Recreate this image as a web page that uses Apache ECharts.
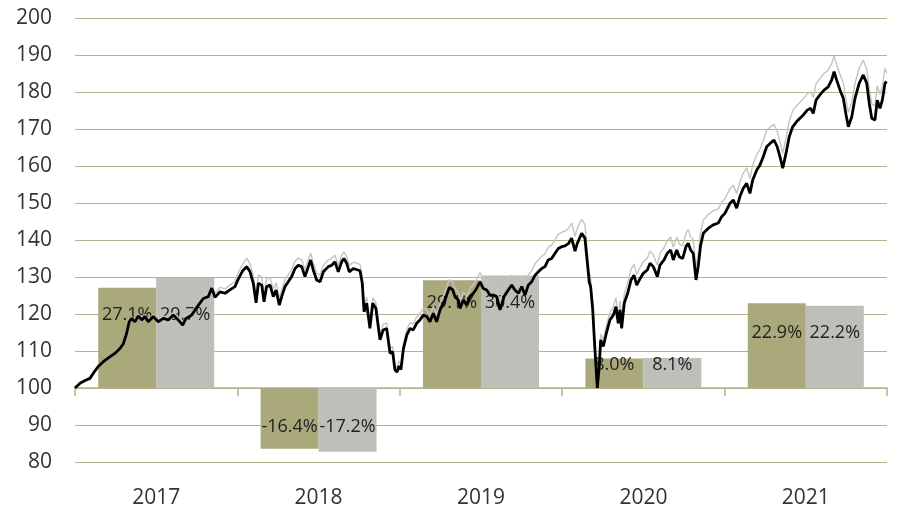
<!DOCTYPE html>
<html>
<head>
<meta charset="utf-8">
<script src="https://cdn.jsdelivr.net/npm/echarts@6/dist/echarts.min.js"></script>
<style>html,body{margin:0;padding:0;background:#fff}#c{width:898px;height:511px}</style>
</head>
<body>
<div id="c"></div>
<script>
// ---------------- data ----------------
const years = ['2017', '2018', '2019', '2020', '2021'];
const returnsA = [27.1, -16.4, 29.1, 8.0, 22.9];   // olive bars (%)
const returnsB = [29.7, -17.2, 30.4, 8.1, 22.2];   // grey bars (%)
const yMin = 80, yMax = 200, yStep = 10;

// time in decimal years
const lineT = [
 2017.000,2017.031,2017.062,2017.092,2017.113,2017.143,2017.174,2017.216,2017.246,2017.277,2017.297,2017.318,2017.334,2017.349,2017.369,2017.390,2017.411,2017.431,2017.451,2017.482,2017.513,2017.544,2017.574,2017.605,2017.636,2017.663,2017.683,2017.719,2017.739,2017.770,2017.790,2017.821,2017.842,2017.862,2017.893,2017.924,2017.954,2017.985,
 2018.006,2018.033,2018.057,2018.078,2018.098,2018.115,2018.129,2018.150,2018.164,2018.180,2018.201,2018.221,2018.238,2018.258,2018.273,2018.293,2018.313,2018.334,2018.355,2018.375,2018.396,2018.416,2018.437,2018.451,2018.467,2018.488,2018.509,2018.529,2018.560,2018.581,2018.601,2018.621,2018.642,2018.656,2018.673,2018.689,2018.714,2018.755,2018.769,2018.780,2018.796,2018.816,2018.833,2018.853,2018.878,2018.898,2018.919,2018.940,2018.956,2018.970,2018.983,2018.995,
 2019.007,2019.022,2019.043,2019.063,2019.083,2019.104,2019.124,2019.145,2019.166,2019.186,2019.206,2019.227,2019.248,2019.278,2019.305,2019.326,2019.340,2019.360,2019.371,2019.391,2019.412,2019.432,2019.453,2019.473,2019.494,2019.514,2019.535,2019.555,2019.576,2019.597,2019.617,2019.642,2019.668,2019.689,2019.709,2019.730,2019.751,2019.771,2019.791,2019.812,2019.833,2019.853,2019.874,2019.894,2019.914,2019.935,2019.956,2019.976,2019.997,
 2020.017,2020.038,2020.058,2020.079,2020.093,2020.110,2020.120,2020.130,2020.140,2020.151,2020.159,2020.167,2020.175,2020.188,2020.198,2020.208,2020.216,2020.228,2020.237,2020.253,2020.274,2020.294,2020.315,2020.331,2020.345,2020.356,2020.366,2020.382,2020.403,2020.424,2020.442,2020.459,2020.475,2020.499,2020.524,2020.541,2020.561,2020.586,2020.602,2020.627,2020.647,2020.668,2020.684,2020.705,2020.721,2020.742,2020.762,2020.776,2020.791,2020.807,2020.824,2020.838,2020.852,2020.869,2020.900,2020.930,2020.961,2020.982,
 2021.002,2021.033,2021.054,2021.074,2021.095,2021.115,2021.136,2021.156,2021.173,2021.198,2021.218,2021.238,2021.259,2021.280,2021.304,2021.324,2021.341,2021.358,2021.378,2021.398,2021.419,2021.444,2021.464,2021.485,2021.509,2021.530,2021.546,2021.563,2021.587,2021.612,2021.638,2021.659,2021.674,2021.690,2021.711,2021.731,2021.748,2021.762,2021.783,2021.803,2021.829,2021.854,2021.875,2021.891,2021.906,2021.926,2021.940,2021.957,2021.971,2021.988,2021.998
];
const lineBlack = [
 100.0,101.3,102.0,102.6,104.0,105.8,107.1,108.5,109.4,110.7,111.9,114.8,117.9,118.8,117.9,119.5,118.4,119.3,117.9,119.3,117.9,118.8,118.4,119.7,118.4,117.0,118.8,119.7,121.1,123.0,124.2,124.7,127.0,124.5,126.0,125.6,126.5,127.4,
 129.5,131.7,132.8,131.4,128.3,123.0,128.3,127.8,123.3,127.4,127.8,124.7,126.5,122.4,124.7,127.4,128.7,130.1,132.3,133.2,132.8,130.1,132.8,134.6,131.9,129.2,128.7,131.4,132.8,133.2,134.1,131.4,134.1,135.0,133.7,131.4,132.3,131.7,128.3,120.6,122.9,116.1,122.9,121.5,113.0,115.7,116.1,109.4,109.8,104.9,104.3,106.0,
 105.0,110.5,114.3,116.1,115.7,117.5,118.4,119.7,119.3,117.9,120.2,117.9,121.1,123.8,127.2,126.5,124.7,123.8,121.5,123.8,122.4,124.7,125.6,126.9,128.7,126.9,126.5,125.1,125.1,124.7,121.1,124.7,126.5,127.8,126.5,125.6,127.4,125.1,127.8,128.7,130.5,131.4,132.3,132.8,134.6,135.0,136.4,137.7,138.2,
 138.4,139.0,140.5,137.0,139.1,140.8,141.8,141.8,140.5,135.5,132.0,128.5,127.4,121.1,113.0,105.8,100.0,105.8,113.0,111.2,115.2,118.4,119.7,122.0,117.5,121.1,116.1,122.9,125.6,129.2,130.5,127.8,129.2,131.0,131.9,133.7,132.8,130.1,133.2,134.6,136.4,137.3,134.6,137.3,135.5,135.0,138.2,139.1,137.3,136.4,129.2,133.0,138.5,141.8,143.2,144.1,144.6,146.3,
 147.2,149.9,150.8,148.6,151.8,154.0,155.3,152.6,156.2,158.9,160.3,162.5,165.2,166.1,167.0,165.2,162.5,159.4,163.4,167.9,170.6,172.0,172.9,173.8,175.1,175.6,174.2,177.8,179.2,180.5,181.4,183.2,185.5,183.2,180.5,178.3,173.8,170.6,173.3,178.3,182.4,184.6,182.4,176.9,172.9,172.4,177.8,175.6,177.8,182.4,182.8
];
const lineGray = [
 100.0,101.4,102.1,102.8,104.2,106.0,107.3,108.8,109.7,111.0,112.2,115.1,118.2,119.2,118.4,120.0,118.9,119.8,118.4,119.9,118.5,119.4,119.0,120.4,119.1,117.7,119.6,120.5,122.0,124.0,125.3,125.8,128.1,125.6,127.2,126.8,127.8,128.8,
 131.3,133.5,135.1,133.5,130.3,125.0,130.6,130.0,125.4,129.6,129.8,126.7,128.4,124.3,126.5,129.3,130.6,132.0,134.3,135.1,134.7,131.9,134.8,136.5,133.8,131.0,130.5,133.2,134.6,135.0,135.9,133.2,135.9,136.8,135.5,133.2,134.0,133.4,129.9,122.2,124.5,117.6,124.4,123.0,114.4,117.2,117.6,110.8,111.2,106.2,105.5,107.3,
 106.3,111.8,115.8,117.7,117.3,119.2,120.1,121.5,121.1,119.7,122.0,119.7,123.0,125.8,129.3,128.6,126.8,125.9,123.6,126.0,124.6,126.9,127.9,129.3,131.2,129.4,129.0,127.6,127.6,127.2,123.5,127.2,129.1,130.5,129.2,128.3,130.2,127.8,130.6,131.6,133.6,134.6,135.6,136.2,138.1,138.6,140.1,141.5,142.1,
 142.4,143.1,144.6,141.0,143.2,144.8,145.6,145.7,144.2,138.8,135.0,131.2,129.8,123.0,114.6,107.0,101.2,107.2,114.6,113.0,117.2,120.5,121.9,124.4,119.8,123.5,118.4,125.4,128.3,132.1,133.5,130.7,132.2,134.1,135.1,137.0,136.0,133.2,136.4,137.9,139.8,140.8,138.0,140.8,138.9,138.4,141.8,142.8,140.9,140.0,132.5,136.4,142.0,145.4,146.9,147.9,148.4,150.2,
 151.1,153.9,154.8,152.5,155.8,158.1,159.5,156.6,160.3,163.1,164.6,166.8,169.6,170.5,171.3,169.4,166.6,163.4,167.5,172.1,174.9,176.3,177.2,178.2,179.5,180.1,178.5,182.2,183.6,185.0,185.9,187.6,189.7,187.4,184.7,182.4,177.8,174.5,177.2,182.3,186.5,188.6,186.3,180.8,176.8,176.3,181.7,179.4,181.6,186.4,185.1
];

// ---------------- styling / layout ----------------
const GRID_COLOR = '#b5b38c';
const OLIVE = '#aaa97b';
const GREYBAR = '#bebfb9';
const FONT = '"Open Sans", "DejaVu Sans", sans-serif';
const labelLevels = [19.7, -10.6, 22.9, 6.2, 14.9]; // label anchor height (relative to 100)

const chart = echarts.init(document.getElementById('c'), null, {renderer: 'canvas'});

function barData(vals, offs) {
  return vals.map((v, i) => ({
    value: v,
    label: {offset: [0, offs ? offs[i] : 0]}
  }));
}

function buildOption(offA, offB) {
  const lbl = {
    show: true, position: 'inside', color: '#222222',
    fontFamily: FONT, fontSize: 18,
    formatter: p => p.value.toFixed(1) + '%'
  };
  return {
    animation: false,
    backgroundColor: '#ffffff',
    grid: {left: 75, right: 11, top: 18, bottom: 49, containLabel: false},
    xAxis: [
      {
        type: 'category', data: years, gridIndex: 0,
        axisLine: {show: true, lineStyle: {color: GRID_COLOR, width: 1.5}},
        axisTick: {show: true, length: 8, lineStyle: {color: GRID_COLOR, width: 1.5}},
        axisLabel: {color: '#333333', fontFamily: FONT, fontSize: 21, margin: 26},
        splitLine: {show: false}
      },
      {
        type: 'value', min: 2017, max: 2022, show: false, gridIndex: 0
      }
    ],
    yAxis: [
      {
        type: 'value', min: yMin, max: yMax, interval: yStep,
        axisLine: {show: false}, axisTick: {show: false},
        axisLabel: {color: '#333333', fontFamily: FONT, fontSize: 21, margin: 23},
        splitLine: {show: true, lineStyle: {color: GRID_COLOR, width: 1}}
      },
      {
        type: 'value', min: yMin - 100, max: yMax - 100, interval: yStep,
        show: false, splitLine: {show: false}
      }
    ],
    series: [
      {
        type: 'bar', xAxisIndex: 0, yAxisIndex: 1,
        data: barData(returnsA, offA), barWidth: 58, barGap: '0%',
        itemStyle: {color: OLIVE}, label: lbl, z: 2
      },
      {
        type: 'bar', xAxisIndex: 0, yAxisIndex: 1,
        data: barData(returnsB, offB), barWidth: 58, barGap: '0%',
        itemStyle: {color: GREYBAR}, label: lbl, z: 2
      },
      {
        type: 'line', xAxisIndex: 1, yAxisIndex: 0,
        data: lineT.map((t, i) => [t, lineGray[i]]),
        showSymbol: false, symbol: 'none', smooth: false,
        lineStyle: {color: '#c4c4c4', width: 1.4}, z: 4
      },
      {
        type: 'line', xAxisIndex: 1, yAxisIndex: 0,
        data: lineT.map((t, i) => [t, lineBlack[i]]),
        showSymbol: false, symbol: 'none', smooth: false,
        lineStyle: {color: '#000000', width: 2.8}, z: 5
      }
    ]
  };
}

chart.setOption(buildOption(null, null));

function offsets(vals) {
  return vals.map((v, i) => {
    const yl = chart.convertToPixel({yAxisIndex: 1}, labelLevels[i]);
    const yc = chart.convertToPixel({yAxisIndex: 1}, v / 2);
    return yl - yc;
  });
}
chart.setOption(buildOption(offsets(returnsA), offsets(returnsB)), true);
</script>
</body>
</html>
